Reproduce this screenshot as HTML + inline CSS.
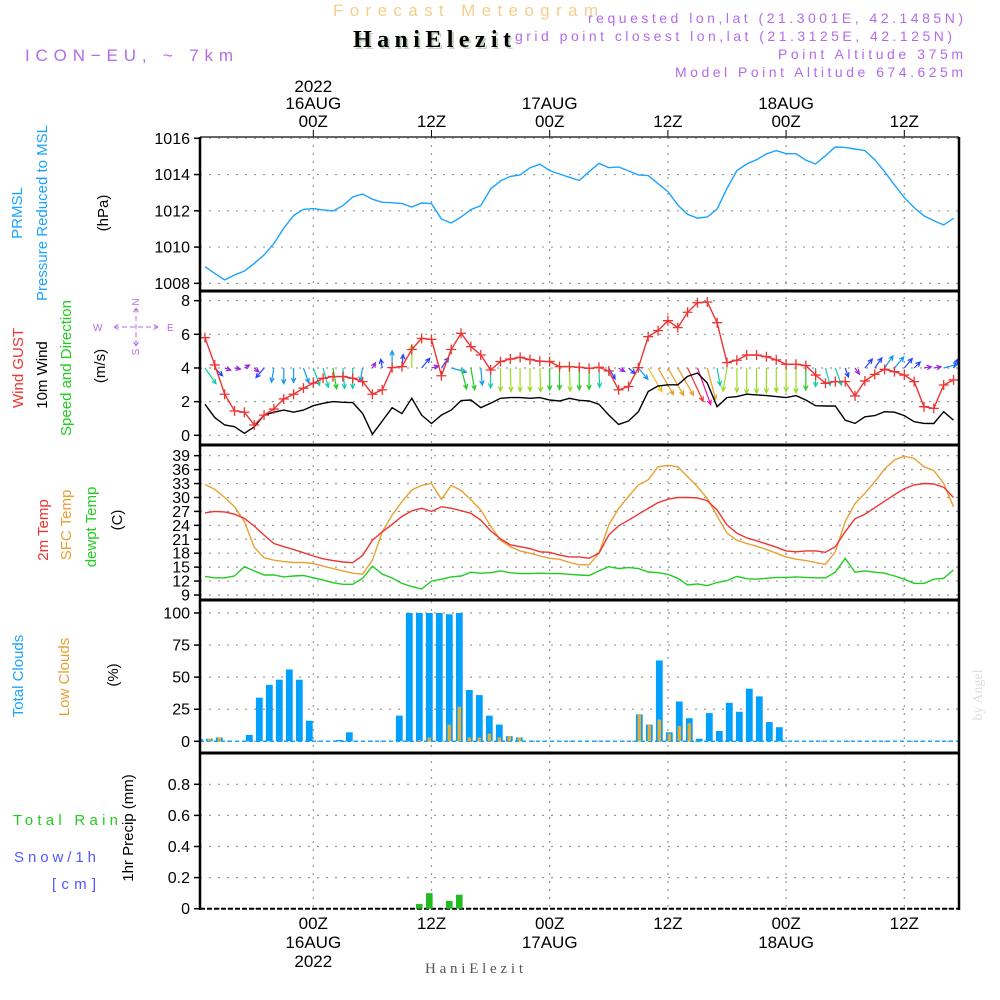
<!DOCTYPE html>
<html><head><meta charset="utf-8">
<style>
html,body{margin:0;padding:0;background:#fff;}
svg{display:block;font-family:"Liberation Sans",sans-serif;}
</style></head>
<body>
<svg id="chart" width="1000" height="1000" viewBox="0 0 1000 1000" xmlns="http://www.w3.org/2000/svg">
<defs>
<clipPath id="c1"><rect x="200" y="137" width="759" height="154"/></clipPath>
<clipPath id="c2"><rect x="200" y="291" width="759" height="154"/></clipPath>
<clipPath id="c3"><rect x="200" y="445" width="759" height="155"/></clipPath>
<clipPath id="c4"><rect x="200" y="600" width="759" height="153"/></clipPath>
<clipPath id="c5"><rect x="200" y="753" width="759" height="156"/></clipPath>
</defs>
<!-- header -->
<text x="333" y="16" font-size="17" fill="#f3cf8e" textLength="265" lengthAdjust="spacing">Forecast Meteogram</text>
<text x="355" y="49" font-size="24" font-weight="bold" font-family="Liberation Serif,serif" fill="#c4d2c4" textLength="158" lengthAdjust="spacing">HaniElezit</text>
<text x="353" y="47" font-size="24" font-weight="bold" font-family="Liberation Serif,serif" fill="#000" textLength="158" lengthAdjust="spacing">HaniElezit</text>
<text x="25" y="61" font-size="17" fill="#b46be8" textLength="208" lengthAdjust="spacing">ICON−EU, ~ 7km</text>
<text x="588" y="23" font-size="14" fill="#b46be8" textLength="375" lengthAdjust="spacing">requested lon,lat (21.3001E, 42.1485N)</text>
<text x="515" y="41" font-size="14" fill="#b46be8" textLength="437" lengthAdjust="spacing">grid point closest lon,lat (21.3125E, 42.125N)</text>
<text x="778" y="59" font-size="14" fill="#b46be8" textLength="185" lengthAdjust="spacing">Point Altitude 375m</text>
<text x="675" y="77" font-size="14" fill="#b46be8" textLength="288" lengthAdjust="spacing">Model Point Altitude 674.625m</text>

<!-- left titles -->
<g font-size="15">
<text transform="translate(22,213) rotate(-90)" text-anchor="middle" fill="#1aa3ff">PRMSL</text>
<text transform="translate(47,213) rotate(-90)" text-anchor="middle" fill="#1aa3ff">Pressure Reduced to MSL</text>
<text transform="translate(108,213) rotate(-90)" text-anchor="middle" fill="#000">(hPa)</text>
<text transform="translate(23,368) rotate(-90)" text-anchor="middle" fill="#ee3333">Wind GUST</text>
<text transform="translate(47,375) rotate(-90)" text-anchor="middle" fill="#000">10m Wind</text>
<text transform="translate(71,368) rotate(-90)" text-anchor="middle" fill="#22cc22">Speed and Direction</text>
<text transform="translate(105,366) rotate(-90)" text-anchor="middle" fill="#000">(m/s)</text>
<text transform="translate(48,530) rotate(-90)" text-anchor="middle" fill="#ee3333">2m Temp</text>
<text transform="translate(71,525) rotate(-90)" text-anchor="middle" fill="#e8a030">SFC Temp</text>
<text transform="translate(96,527) rotate(-90)" text-anchor="middle" fill="#22cc22">dewpt Temp</text>
<text transform="translate(122,520) rotate(-90)" text-anchor="middle" fill="#000">(C)</text>
<text transform="translate(23,676) rotate(-90)" text-anchor="middle" fill="#1aa3ff">Total Clouds</text>
<text transform="translate(69,677) rotate(-90)" text-anchor="middle" fill="#e8a030">Low Clouds</text>
<text transform="translate(118,675) rotate(-90)" text-anchor="middle" fill="#000">(%)</text>
<text x="13" y="825" fill="#22cc22" textLength="105" lengthAdjust="spacing">Total   Rain</text>
<text x="14" y="862" fill="#5555ff" textLength="82" lengthAdjust="spacing">Snow/1h</text>
<text x="52" y="889" fill="#5555ff" textLength="44" lengthAdjust="spacing">[cm]</text>
<text transform="translate(133,828) rotate(-90)" text-anchor="middle" fill="#000">1hr Precip (mm)</text>
</g>
<!-- compass -->
<g fill="#b46be8" font-size="10">
<text x="93" y="331">W</text><text x="167" y="331">E</text>
<text transform="translate(139,302) rotate(-90)" text-anchor="middle">N</text>
<text transform="translate(139,352) rotate(-90)" text-anchor="middle">S</text>
<path d="M114 327 H158 M114 327 l5 -3 M114 327 l5 3 M158 327 l-5 -3 M158 327 l-5 3 M136 308 V346 M136 308 l-3 5 M136 308 l3 5 M136 346 l-3 -5 M136 346 l3 -5" stroke="#b46be8" stroke-width="1" stroke-dasharray="5,3" fill="none"/>
</g>
<text x="425" y="973" font-size="15" font-family="Liberation Serif,serif" fill="#555" textLength="98" lengthAdjust="spacing">HaniElezit</text>
<text transform="translate(982,695) rotate(-90)" text-anchor="middle" font-size="14" font-family="Liberation Serif,serif" fill="#ddd">by Angel</text>
<g id="layer"></g>
</svg>
<script>
// ---- data (hourly, 13Z 15AUG .. 17Z 18AUG) ----
const hours = [];
for (let h = -11; h <= 65; h++) hours.push(h);
const pressure = [1008.92,1008.55,1008.19,1008.46,1008.68,1009.1,1009.57,1010.2,1011.04,1011.74,1012.08,1012.12,1012.05,1011.99,1012.29,1012.76,1012.93,1012.64,1012.47,1012.45,1012.4,1012.21,1012.43,1012.4,1011.55,1011.33,1011.66,1012.07,1012.29,
1013.2,1013.65,1013.9,1013.98,1014.38,1014.57,1014.22,1014.03,1013.85,1013.68,1014.16,1014.62,1014.38,1014.42,1014.2,1013.98,1013.94,1013.5,1013.06,1012.32,1011.8,1011.6,1011.66,1012.1,1013.24,1014.22,1014.58,1014.82,1015.14,1015.32,1015.15,1015.15,1014.8,1014.58,1015.04,1015.52,1015.5,1015.41,1015.32,1014.82,1014.16,1013.43,1012.73,1012.18,1011.72,1011.46,1011.22,1011.59];
const windSpeed = [1.84,1.05,0.61,0.51,0.12,0.5,1.2,1.37,1.5,1.37,1.5,1.76,1.9,2.0,1.96,1.94,1.3,0.06,0.85,1.64,1.29,2.2,1.2,0.7,1.2,1.5,2.06,2.1,1.64,
1.9,2.2,2.24,2.24,2.2,2.24,2.1,2.04,2.2,2.08,2.04,1.84,1.2,0.65,0.85,1.4,2.6,2.93,3.0,3.0,3.5,3.7,3.1,1.7,2.24,2.3,2.44,2.4,2.36,2.3,2.24,2.36,2.1,1.76,1.74,1.74,0.9,0.71,1.1,1.17,1.4,1.37,1.17,0.81,0.71,0.7,1.4,0.9];
const windGust = [5.8,4.18,2.44,1.45,1.37,0.61,1.2,1.56,2.16,2.44,2.8,3.1,3.39,3.49,3.49,3.39,3.19,2.44,2.7,4.02,4.08,5.1,5.76,5.7,3.54,5.1,6.06,5.27,4.77,
3.88,4.38,4.53,4.63,4.5,4.4,4.38,4.08,4.08,4.04,3.98,4.04,3.82,2.7,2.9,4.02,5.86,6.22,6.81,6.4,7.31,7.88,7.92,6.69,4.32,4.46,4.77,4.77,4.67,4.48,4.22,4.22,4.14,3.58,3.09,3.19,3.19,2.34,3.23,3.62,3.92,3.78,3.58,3.19,1.7,1.6,2.99,3.29];
const windDir = [145,135,110,100,60,130,220,190,180,180,160,160,165,170,175,180,190,30,350,0,5,0,40,75,35,105,165,170,175,
180,180,178,180,180,178,180,180,178,180,180,178,150,120,130,140,150,150,150,150,155,160,165,170,190,180,180,180,180,180,180,180,180,180,165,160,160,145,40,35,35,40,40,45,80,80,75,25];
const temp2m = [26.7,27.0,26.9,26.4,25.5,23.85,21.9,20.1,19.4,18.8,18.1,17.4,16.8,16.4,16.1,15.95,17.5,20.8,22.6,24.2,25.9,27.1,27.7,27.0,28.0,27.7,27.15,26.6,25.1,22.8,21.1,19.8,19.4,19.0,18.3,18.2,17.6,17.2,17.2,
16.9,18.0,21.9,23.9,25.1,26.4,27.65,28.9,29.6,30.0,30.0,29.9,29.3,27.3,24.1,22.3,21.3,20.7,20.0,19.3,18.5,18.3,18.5,18.5,18.2,19.4,22.6,25.4,26.4,27.8,29.2,30.6,31.9,32.7,33.0,32.9,32.2,30.0];
const tempSfc = [32.8,31.75,30.0,28.0,24.8,19.3,17.0,16.5,16.2,16.0,16.0,15.8,15.2,14.7,14.2,13.7,13.5,16.5,22.6,26.2,29.1,31.6,32.6,33.0,29.6,32.6,31.5,29.5,27.3,23.85,20.8,19.4,18.5,18.0,17.4,16.9,16.7,16.0,15.5,
15.5,18.0,24.1,27.65,30.2,32.7,33.8,36.6,36.9,36.6,34.5,32.3,29.8,26.0,22.3,20.8,20.1,19.5,18.8,18.0,17.2,16.7,16.4,16.0,15.6,18.3,24.8,28.7,30.9,33.4,36.1,38.1,38.9,38.4,36.6,35.8,33.0,28.0];
const dewpoint = [13.0,12.7,12.7,13.1,15.1,14.2,13.3,13.3,12.9,13.1,13.2,12.7,12.2,11.65,11.3,11.3,12.6,15.2,13.5,12.65,11.5,10.8,10.3,12.0,12.4,12.9,13.1,13.9,13.7,13.8,14.2,13.8,13.6,13.6,13.7,13.6,13.6,13.45,13.3,
13.2,14.2,15.1,14.7,14.9,14.7,13.95,13.8,13.45,12.6,11.15,11.4,11.0,11.7,12.1,13.0,12.5,12.4,12.6,12.8,12.8,12.9,12.8,12.7,12.7,13.9,16.9,13.9,14.2,13.9,13.7,13.1,12.4,11.5,11.5,12.4,12.6,14.4];
const cloudTotal = [2,2,3,0,0,5,34,44,48,56,48,16,0,0,1,7,0,0,0,0,20,100,100,100,100,99,100,40,36,20,13,4,3,0,0,0,0,0,0,0,0,0,0,0,21,13,63,7,31,18,2,22,8,30,23,41,35,15,11,0,0,0,0,0,0,0,0,0,0,0,0,0,0,0,0,0];
const cloudLow = [2,2,3,0,0,0,0,0,0,0,0,0,0,0,0,0,0,0,0,0,0,0,1,3,0,13,27,3,3,6,3,4,3,0,0,0,0,0,0,0,0,0,0,0,21,13,17,6,12,14,0,0,0,0,0,0,0,0,0,0,0,0,0,0,0,0,0,0,0,0,0,0,0,0,0,0];
const precipIdx = [22,23,25,26];
const precipVals = [0.03,0.10,0.05,0.09];
const pTicks = [1008,1010,1012,1014,1016];
const wTicks = [0,2,4,6,8];
const tTicks = [9,12,15,18,21,24,27,30,33,36,39];
const cTicks = [0,25,50,75,100];
const rTicks = [0,0.2,0.4,0.6,0.8];
const rTickLabels = ['0','0.2','0.4','0.6','0.8'];
const timeTickHours = [0,12,24,36,48,60];
const timeTickZ = ['00Z','12Z','00Z','12Z','00Z','12Z'];
const timeTickDay = ['16AUG','','17AUG','','18AUG',''];
const timeTickYear = ['2022','','','','',''];

// ---- scales ----
const X = h => 313.3 + 9.85 * h;
const BX = k => 199.3 + 10 * k;
const yP = p => 138.3 + (1016 - p) * 18.13;
const yW = v => 435.3 - v * 16.83;
const yT = t => 595 - (t - 9) * 4.644;
const yC = c => 741.3 - c * 1.283;
const yR = r => 908.7 - r * 155.5;

const NS = 'http://www.w3.org/2000/svg';
const layer = document.getElementById('layer');
function mk(tag, attrs, parent) {
  const e = document.createElementNS(NS, tag);
  for (const k in attrs) e.setAttribute(k, attrs[k]);
  (parent || layer).appendChild(e);
  return e;
}
const PL = 200, PR = 959;

// grids
const panels = [
  {ticks: pTicks, y: yP, lab: t => String(t), name: 'pressure'},
  {ticks: wTicks, y: yW, lab: t => String(t), name: 'wind'},
  {ticks: tTicks, y: yT, lab: t => String(t), name: 'temp'},
  {ticks: cTicks, y: yC, lab: t => String(t), name: 'cloud'},
  {ticks: rTicks, y: yR, lab: (t,i) => rTickLabels[i], name: 'precip'}
];
panels.forEach(p => {
  p.ticks.forEach((t, i) => {
    const y = p.y(t);
    const g = mk('line', {x1:PL, x2:PR, y1:y, y2:y, stroke:'#999', 'stroke-width':1.2, 'stroke-dasharray':'2,7'});
    
    
    const tk = mk('line', {x1:PL-6, x2:PL, y1:y, y2:y, stroke:'#000', 'stroke-width':1.5});
    
    
    const tx = mk('text', {x:PL-10, y:y+5.5, 'text-anchor':'end', 'font-size':16, fill:'#000'});
    tx.textContent = p.lab(t, i);
    
    
  });
});
timeTickHours.forEach((h, i) => {
  const x = X(h);
  const v = mk('line', {x1:x, x2:x, y1:137, y2:909, stroke:'#999', 'stroke-width':1.2, 'stroke-dasharray':'2,6'});
  
  
  const t1 = mk('line', {x1:x, x2:x, y1:130, y2:137, stroke:'#000'});
  
  
  const z = mk('text', {x:x, y:127, 'text-anchor':'middle', 'font-size':17, fill:'#000'});
  z.textContent = timeTickZ[i];
  
  
  if (timeTickDay[i]) {
    const d = mk('text', {x:x, y:109, 'text-anchor':'middle', 'font-size':17, fill:'#000'});
    d.textContent = timeTickDay[i];
    
    
  }
  if (timeTickYear[i]) {
    const yy = mk('text', {x:x, y:92, 'text-anchor':'middle', 'font-size':17, fill:'#000'});
    yy.textContent = timeTickYear[i];
    
    
  }
  const b = mk('text', {x:x, y:929, 'text-anchor':'middle', 'font-size':17, fill:'#000'});
  b.textContent = timeTickZ[i];
  
  
  if (timeTickDay[i]) {
    const d = mk('text', {x:x, y:948, 'text-anchor':'middle', 'font-size':17, fill:'#000'});
    d.textContent = timeTickDay[i];
    
    
  }
  if (timeTickYear[i]) {
    const yy = mk('text', {x:x, y:967, 'text-anchor':'middle', 'font-size':17, fill:'#000'});
    yy.textContent = timeTickYear[i];
    
    
  }
});

function poly(vals, yf, color, clip, name) {
  const pts = vals.map((v, i) => X(hours[i]).toFixed(1) + ',' + yf(v).toFixed(1)).join(' ');
  const e = mk('polyline', {points:pts, fill:'none', stroke:color, 'stroke-width':1.4, 'clip-path':'url(#' + clip + ')'});
  
  
  return e;
}
// pressure
poly(pressure, yP, '#1aa3ff', 'c1', 'pressure-line');

// wind arrows
function windColor(s) {
  if (s < 0.8) return '#9922dd';
  if (s < 1.3) return '#2244ff';
  if (s < 1.7) return '#1199ee';
  if (s < 2.0) return '#11ccaa';
  if (s < 2.2) return '#22cc22';
  if (s < 2.5) return '#99dd22';
  if (s < 2.9) return '#e8c020';
  if (s < 3.3) return '#ee9922';
  if (s < 3.6) return '#ee3333';
  return '#ee1199';
}
windDir.forEach((d, i) => {
  const s = windSpeed[i];
  const len = Math.max(6, 10.5 * s);
  const a = d * Math.PI / 180;
  const x0 = X(hours[i]), y0 = yW(4);
  const x1 = x0 + len * Math.sin(a), y1 = y0 - len * Math.cos(a);
  const h1 = a + Math.PI - 0.45, h2 = a + Math.PI + 0.45;
  const path = `M${x0.toFixed(1)} ${y0.toFixed(1)} L${x1.toFixed(1)} ${y1.toFixed(1)} M${(x1+5*Math.sin(h1)).toFixed(1)} ${(y1-5*Math.cos(h1)).toFixed(1)} L${x1.toFixed(1)} ${y1.toFixed(1)} L${(x1+5*Math.sin(h2)).toFixed(1)} ${(y1-5*Math.cos(h2)).toFixed(1)}`;
  const e = mk('path', {d:path, fill:'none', stroke:windColor(s), 'stroke-width':1.2, 'clip-path':'url(#c2)'});
  
  
});
poly(windSpeed, yW, '#000', 'c2', 'wind-speed-line');
poly(windGust, yW, '#ee3333', 'c2', 'wind-gust-line');
windGust.forEach((g, i) => {
  const x = X(hours[i]), y = yW(g);
  const e = mk('path', {d:`M${x-5} ${y} H${x+5} M${x} ${y-5} V${y+5}`, stroke:'#ee3333', 'stroke-width':1.3, 'clip-path':'url(#c2)'});
  
  
});

// temperatures
poly(tempSfc, yT, '#e8a030', 'c3', 'sfc-temp-line');
poly(temp2m, yT, '#ee3333', 'c3', 'temp-2m-line');
poly(dewpoint, yT, '#22cc22', 'c3', 'dewpoint-line');

// clouds
const zl = mk('line', {x1:PL, x2:PR, y1:yC(0), y2:yC(0), stroke:'#1aa3ff', 'stroke-width':1.5, 'stroke-dasharray':'4,3'});


cloudTotal.forEach((c, k) => {
  const x = BX(k);
  if (c > 0) {
    const e = mk('rect', {x:x-3.4, y:yC(c), width:6.8, height:yC(0)-yC(c), fill:'#00a0ff', 'clip-path':'url(#c4)'});
    
    
  }
  const lc = cloudLow[k];
  if (lc > 0) {
    const e = mk('rect', {x:x-1.7, y:yC(lc), width:3.4, height:yC(0)-yC(lc), fill:'#e8aa30', 'clip-path':'url(#c4)'});
    
    
  }
});

// precip
const pz = mk('line', {x1:PL, x2:PR, y1:yR(0), y2:yR(0), stroke:'#000', 'stroke-width':2, 'stroke-dasharray':'5,2'});


precipVals.forEach((r, i) => {
  const x = BX(precipIdx[i]);
  const e = mk('rect', {x:x-3.3, y:yR(r), width:6.6, height:yR(0)-yR(r), fill:'#22bb22'});
  
  
});

// frames
const topBorder = mk('line', {x1:PL, x2:PR, y1:137, y2:137, stroke:'#333', 'stroke-width':1.5});


[291, 445, 600, 753].forEach(y => {
  const e = mk('line', {x1:PL-1, x2:PR+1, y1:y, y2:y, stroke:'#000', 'stroke-width':3});
  
  
});
const leftAxis = mk('line', {x1:PL, x2:PL, y1:137, y2:910, stroke:'#000', 'stroke-width':2.5});


const rightAxis = mk('line', {x1:PR, x2:PR, y1:137, y2:910, stroke:'#000', 'stroke-width':2.5});


</script>
</body></html>
